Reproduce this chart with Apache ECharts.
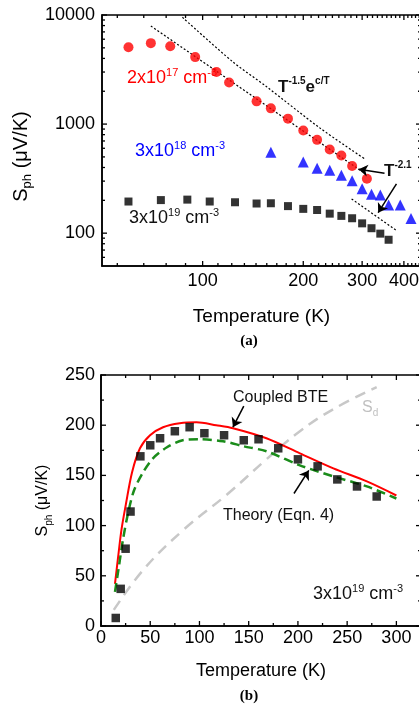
<!DOCTYPE html>
<html>
<head>
<meta charset="utf-8">
<script src="https://cdn.jsdelivr.net/npm/echarts@6/dist/echarts.min.js"></script>
<style>
html, body { margin: 0; padding: 0; background: #fff; }
#main { width: 419px; height: 708px; }
</style>
</head>
<body>
<div id="main"></div>
<script>
// ---- panel (a): log-log, three doping levels
const tempA17 = [60, 70, 80, 95, 110, 120, 145, 160, 180, 200, 220, 240, 260, 280, 310];
const sph17 = [5070, 5520, 5180, 4110, 3000, 2410, 1615, 1394, 1122, 873, 717, 585, 515, 412, 315];
const tempA18 = [160, 200, 220, 240, 260, 280, 300, 320, 340, 360, 390, 420];
const sph18 = [553, 450, 393, 378, 340, 303, 256, 227, 224, 181, 181, 136];
const tempA19 = [60, 75, 90, 105, 125, 145, 160, 180, 200, 220, 240, 260, 280, 300, 320, 340, 360];
const sph19 = [195, 201, 203, 195, 192, 187, 188, 177, 167, 163, 151, 144, 137, 123, 111, 99, 87];
// guide lines (dotted)
const guideExpT = [87, 123, 155, 224, 305];
const guideExpS = [9530, 3730, 2213, 923, 481];
const guidePowT = [70, 301];
const guidePowS = [7930, 364];
const guidePow19T = [279, 378];
const guidePow19S = [206, 107];
// arrows [[x1, y1], [x2, y2]]
const arrowsA = [[[350, 354], [293, 385]], [[380, 283], [335, 154]]];
const xTicksA = [100, 200, 300, 400];
const yTicksA = [100, 1000, 10000];

// ---- panel (b): linear, 3x10^19
const tempB = [15, 20, 25, 30, 40, 50, 60, 75, 90, 105, 125, 145, 160, 180, 200, 220, 240, 260, 280];
const sphB = [8, 37, 77, 114, 169, 180, 187, 194, 198, 192, 190, 185, 186, 177, 166, 159, 146, 139, 129];
const bteT = [14.2, 17.3, 20.8, 25.4, 31.5, 39.6, 49.8, 63, 80, 97, 117, 134, 168, 202, 236, 270, 300];
const bteS = [42, 68, 96, 122, 153, 177, 190, 198, 202, 203, 200, 197, 187, 172, 157, 144, 130];
const theoryT = [14.2, 18.3, 22.3, 27.4, 33.5, 42.7, 52.8, 67, 83, 100, 124, 145, 168, 202, 236, 270, 300];
const theoryS = [34, 60, 86, 112, 135, 153, 167, 178, 185, 186, 184, 179, 174, 160, 149, 139, 127];
const sdT = [13, 43, 84, 128, 168, 202, 236, 280];
const sdS = [16, 56, 96, 131, 166, 194, 216, 238];
const arrowsB = [[[145, 219], [134, 198]], [[196, 132], [211, 155]]];
const xTicksB = [0, 50, 100, 150, 200, 250, 300];
const yTicksB = [0, 50, 100, 150, 200, 250];

const FONT = '"Liberation Sans", Arial, sans-serif';
const MAJOR = 5, MINOR = 3;

// minor ticks
const xMinorA = [];
for (let k = 5; k <= 40; k++) {
  const v = k * 100 / 9;
  if (v > 50 && v < 450 && k % 9 !== 0) xMinorA.push(v);
}
const yMinorA = [];
[10, 100, 1000].forEach(d => {
  for (let m = 2; m <= 9; m++) if (m * d > 50 && m * d < 10000) yMinorA.push(m * d);
});
const xMinorB = [25, 75, 125, 175, 225, 275, 325];
const yMinorB = [25, 75, 125, 175, 225];

function axis(grid, pos, type, min, max, vals, margin, extra) {
  return Object.assign({
    gridIndex: grid, type: type, position: pos, min: min, max: max, logBase: 10,
    axisLine: { show: true, onZero: false, lineStyle: { color: '#000', width: 1.5 } },
    axisTick: { show: false },
    axisLabel: {
      show: true, customValues: vals, margin: margin, color: '#000', fontFamily: FONT, fontSize: 18,
      formatter: v => String(Math.round(v))
    },
    splitLine: { show: false }
  }, extra || {});
}

const nameStyle = size => ({
  color: '#000', fontFamily: FONT, fontSize: size,
  rich: {
    m: { fontFamily: FONT, fontSize: size, color: '#000', lineHeight: size + 6 },
    s: { fontFamily: FONT, fontSize: Math.round(size * 0.65), color: '#000', lineHeight: Math.round(size * 0.7), verticalAlign: 'bottom' }
  }
});

const zip = (xs, ys) => xs.map((x, i) => [x, ys[i]]);

function scatter(p, xs, ys, symbol, size, color) {
  return {
    type: 'scatter', xAxisIndex: p, yAxisIndex: p, data: zip(xs, ys),
    symbol: symbol, symbolSize: size, itemStyle: { color: color }, z: 5
  };
}
function curve(p, xs, ys, color, width, dash, smooth) {
  return {
    type: 'line', xAxisIndex: p, yAxisIndex: p, data: zip(xs, ys),
    showSymbol: false, symbol: 'none', smooth: smooth || false,
    lineStyle: { color: color, width: width, type: dash }, z: 3
  };
}
function arrows(p, list) {
  return {
    type: 'lines', coordinateSystem: 'cartesian2d', xAxisIndex: p, yAxisIndex: p,
    data: list.map(c => ({ coords: c })),
    symbol: ['none', 'arrow'], symbolSize: 9,
    lineStyle: { color: '#000', width: 1.5, opacity: 1 }, z: 6
  };
}

const sup = (c, size, bold) => ({ fontFamily: FONT, fontSize: size, fontWeight: bold ? 'bold' : 'normal', fill: c, lineHeight: size, verticalAlign: 'top' });
const main = (c, size, bold) => ({ fontFamily: FONT, fontSize: size, fontWeight: bold ? 'bold' : 'normal', fill: c, lineHeight: size + 4 });
function note(x, y, text, c, size, supSize, bold) {
  return {
    type: 'text', x: x, y: y, z: 10,
    style: {
      text: text, fill: c, verticalAlign: 'middle', align: 'left',
      rich: { m: main(c, size, bold), s: sup(c, supSize, bold) }
    }
  };
}

const notes = [
  note(127, 78, '{m|2x10}{s|17}{m| cm}{s|-3}', '#ff0000', 18, 11, false),
  note(278, 87, '{m|T}{s|-1.5}{m|e}{s|c/T}', '#111', 17, 10, true),
  note(135, 151, '{m|3x10}{s|18}{m| cm}{s|-3}', '#0000ff', 18, 11, false),
  note(129, 218, '{m|3x10}{s|19}{m| cm}{s|-3}', '#111', 18, 11, false),
  note(384, 171, '{m|T}{s|-2.1}', '#111', 17, 10, true),
  note(233, 398, '{m|Coupled BTE}', '#111', 16, 10, false),
  note(223, 516, '{m|Theory (Eqn. 4)}', '#111', 16, 10, false),
  {
    type: 'text', x: 362, y: 408, z: 10,
    style: {
      text: '{m|S}{d|d}', verticalAlign: 'middle',
      rich: {
        m: { fontFamily: FONT, fontSize: 16, fill: '#c0c0c0', lineHeight: 20 },
        d: { fontFamily: FONT, fontSize: 10, fill: '#c0c0c0', lineHeight: 10, verticalAlign: 'bottom' }
      }
    }
  },
  note(313, 594, '{m|3x10}{s|19}{m| cm}{s|-3}', '#111', 18, 11, false),
  { type: 'text', x: 249, y: 341, style: { text: '(a)', font: 'bold 15px "Liberation Serif", serif', fill: '#000', align: 'center', verticalAlign: 'middle' } },
  { type: 'text', x: 249, y: 696, style: { text: '(b)', font: 'bold 15px "Liberation Serif", serif', fill: '#000', align: 'center', verticalAlign: 'middle' } }
];

const gridBox = { show: true, borderColor: '#000', borderWidth: 1.5, backgroundColor: 'transparent', containLabel: false, outerBoundsMode: 'none' };

const chart = echarts.init(document.getElementById('main'));
chart.setOption({
  animation: false,
  backgroundColor: '#fff',
  grid: [
    Object.assign({ left: 102, top: 15, width: 319, height: 251 }, gridBox),
    Object.assign({ left: 101, top: 375, width: 320, height: 251 }, gridBox)
  ],
  xAxis: [
    axis(0, 'bottom', 'log', 50, 450, xTicksA, 6, {
      name: 'Temperature (K)', nameLocation: 'middle', nameGap: 41,
      nameTextStyle: { color: '#000', fontFamily: FONT, fontSize: 19 }
    }),
    axis(1, 'bottom', 'value', 0, 325, xTicksB, 3, {
      name: 'Temperature (K)', nameLocation: 'middle', nameGap: 36,
      nameTextStyle: { color: '#000', fontFamily: FONT, fontSize: 18 }
    })
  ],
  yAxis: [
    axis(0, 'left', 'log', 50, 10000, yTicksA, 7, {
      name: '{m|S}{s|ph}{m| (μV/K)}', nameLocation: 'middle', nameGap: 60,
      nameTextStyle: Object.assign(nameStyle(20), { padding: [0, 32, 0, 0] })
    }),
    axis(1, 'left', 'value', 0, 250, yTicksB, 6, {
      name: '{m|S}{s|ph}{m| (μV/K)}', nameLocation: 'middle', nameGap: 38,
      nameTextStyle: nameStyle(16)
    })
  ],
  series: [
    scatter(0, tempA17, sph17, 'circle', 10, '#ff0000'),
    scatter(0, tempA18, sph18, 'triangle', 11, '#0000ff'),
    scatter(0, tempA19, sph19, 'rect', 8, '#000'),
    curve(0, guideExpT, guideExpS, '#000', 1.2, [2, 2], 0.3),
    curve(0, guidePowT, guidePowS, '#000', 1.2, [2, 2]),
    curve(0, guidePow19T, guidePow19S, '#000', 1.2, [2, 2]),
    arrows(0, arrowsA),
    curve(1, sdT, sdS, '#c8c8c8', 2.5, [11, 7], 0.4),
    curve(1, bteT, bteS, '#ff0000', 2, 'solid', 0.3),
    curve(1, theoryT, theoryS, '#1a8c1a', 2.5, [9, 5], 0.3),
    scatter(1, tempB, sphB, 'rect', 8.5, '#000'),
    arrows(1, arrowsB)
  ],
  graphic: notes
});

// inward ticks on all four sides, placed with the grids' own scales
const ticks = [];
function addTicks(g, xr, yr, xMaj, xMin, yMaj, yMin) {
  const px = v => chart.convertToPixel({ gridIndex: g }, v);
  const seg = (pt, dx, dy) => {
    if (!pt || isNaN(pt[0]) || isNaN(pt[1])) return;
    ticks.push({
      type: 'line', silent: true, z: 20,
      shape: { x1: pt[0], y1: pt[1], x2: pt[0] + dx, y2: pt[1] + dy },
      style: { stroke: '#000', lineWidth: 1.3 }
    });
  };
  const hx = (v, len) => { seg(px([v, yr[0]]), 0, -len); seg(px([v, yr[1]]), 0, len); };
  const vy = (v, len) => { seg(px([xr[0], v]), len, 0); seg(px([xr[1], v]), -len, 0); };
  xMaj.forEach(v => hx(v, MAJOR));
  xMin.forEach(v => hx(v, MINOR));
  yMaj.forEach(v => vy(v, MAJOR));
  yMin.forEach(v => vy(v, MINOR));
}
addTicks(0, [50, 450], [50, 10000], xTicksA, xMinorA, yTicksA, yMinorA);
addTicks(1, [0, 325], [0, 250], xTicksB, xMinorB, yTicksB, yMinorB);
chart.setOption({ graphic: notes.concat(ticks) });

window.addEventListener('resize', function () { chart.resize(); });
</script>
</body>
</html>
